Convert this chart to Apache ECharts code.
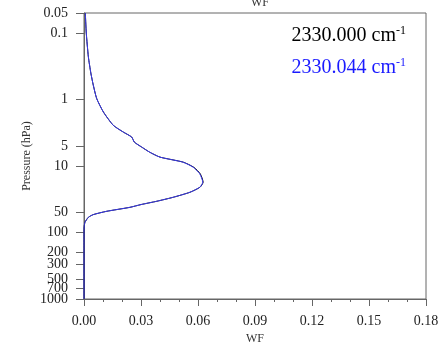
<!DOCTYPE html>
<html>
<head>
<meta charset="utf-8">
<script src="https://cdn.jsdelivr.net/npm/echarts@6/dist/echarts.min.js"></script>
<style>html,body{margin:0;padding:0;background:#fff;}#c{width:438px;height:343px;}</style>
</head>
<body>
<div id="c"></div>
<script>
var pressure = [0.05, 0.1, 0.228, 0.40, 0.61, 0.97, 1.54, 2.44, 3.09, 3.67, 4.37, 5.2, 6.18, 7.35, 8.74, 10.4, 13.1, 17.5, 20.8, 24.8, 29.5, 33.9, 38.0, 41.8, 48.0, 53.8, 59.1, 70.3, 81.6, 100, 200, 500, 1000];
var wfBlack = [0.0007, 0.0012, 0.0023, 0.0036, 0.0049, 0.0067, 0.0102, 0.0154, 0.0207, 0.0251, 0.0265, 0.0304, 0.0345, 0.0400, 0.0522, 0.0577, 0.0612, 0.0627, 0.0611, 0.0558, 0.0470, 0.0383, 0.0300, 0.0242, 0.0119, 0.0049, 0.0023, 0.0005, 0.0001, 0.0, 0.0, 0.0, 0.0];
var wfBlue  = [0.0007, 0.0012, 0.0023, 0.0036, 0.0049, 0.0067, 0.0102, 0.0154, 0.0207, 0.0251, 0.0265, 0.0304, 0.0345, 0.0400, 0.0520, 0.0574, 0.0609, 0.0625, 0.0610, 0.0558, 0.0470, 0.0383, 0.0300, 0.0242, 0.0119, 0.0049, 0.0023, 0.0005, 0.0001, 0.0, 0.0, 0.0, 0.0];
var seriesNames = ['2330.000 cm', '2330.044 cm'];
var yTicks = [0.05, 0.1, 1, 5, 10, 50, 100, 200, 300, 500, 700, 1000];
var yTicksCrowded = [700, 1000];   // labels that overlap their neighbours in the original
var xMin = 0, xMax = 0.18, xStep = 0.03;
var yMin = 0.05, yMax = 1000;

var serif = 'Liberation Serif';
function pairs(vals){ return vals.map(function(v,i){ return [v, pressure[i]]; }); }
function labelStyle(values){
  return {fontFamily: serif, fontSize: 14, color: '#222', margin: 16,
    showMinLabel: true, showMaxLabel: true, hideOverlap: false, customValues: values,
    formatter: function(v){ return String(+v.toPrecision(6)); }};
}
var mainLabels = yTicks.filter(function(v){ return yTicksCrowded.indexOf(v) < 0; });

var yAxes = [{
  type: 'log', logBase: 10, inverse: true, min: yMin, max: yMax, position: 'left',
  name: 'Pressure (hPa)', nameLocation: 'middle', nameGap: 50, nameRotate: 90,
  nameTextStyle: {fontFamily: serif, fontSize: 12, color: '#333'},
  axisLine: {show: true, lineStyle: {color: '#666'}},
  axisTick: {show: true, length: 8, customValues: yTicks, lineStyle: {color: '#666'}},
  splitLine: {show: false},
  axisLabel: labelStyle(mainLabels)
}];
yTicksCrowded.forEach(function(v){
  yAxes.push({
    type: 'log', logBase: 10, inverse: true, min: yMin, max: yMax, position: 'left', offset: 0,
    axisLine: {show: false}, axisTick: {show: false}, splitLine: {show: false},
    axisLabel: labelStyle([v])
  });
});

var chart = echarts.init(document.getElementById('c'), null, {renderer:'canvas'});
chart.setOption({
  animation: false,
  backgroundColor: '#fff',
  title: {
    text: 'WF', left: 255, top: -8, textAlign: 'center',
    textStyle: {fontFamily: serif, fontSize: 12, fontWeight: 'normal', color: '#333'}
  },
  grid: {left: 84, right: 12, top: 13, bottom: 44, show: true, borderColor: '#666', borderWidth: 1,
    containLabel: false, outerBoundsMode: 'none'},
  legend: {
    orient: 'vertical', right: 22, top: 20, itemGap: 11,
    icon: 'none', itemWidth: 0, itemHeight: 0,
    selectedMode: false,
    align: 'right',
    formatter: function(n){ return '{a|' + n + '}{s|-1}'; },
    textStyle: {
      fontFamily: serif, fontSize: 20,
      rich: {
        a: {fontFamily: serif, fontSize: 20},
        s: {fontFamily: serif, fontSize: 12, verticalAlign: 'top', padding: [0,0,10,0]}
      }
    },
    data: [
      {name: seriesNames[0], textStyle: {color: '#000'}},
      {name: seriesNames[1], textStyle: {color: '#1a1aff'}}
    ]
  },
  xAxis: {
    type: 'value', min: xMin, max: xMax, interval: xStep,
    name: 'WF', nameLocation: 'middle', nameGap: 32,
    nameTextStyle: {fontFamily: serif, fontSize: 12, color: '#333'},
    axisLine: {show: true, lineStyle: {color: '#666'}},
    axisTick: {show: true, length: 7, lineStyle: {color: '#666'}},
    minorTick: {show: true, splitNumber: 3, length: 3, lineStyle: {color: '#666'}},
    splitLine: {show: false},
    axisLabel: {fontFamily: serif, fontSize: 14, color: '#222', margin: 15,
      formatter: function(v){ return v.toFixed(2); }}
  },
  yAxis: yAxes,
  series: [
    {name: seriesNames[0], type: 'line', yAxisIndex: 0, data: pairs(wfBlack), showSymbol: false, symbol: 'none',
      lineStyle: {color: '#000', width: 1}, itemStyle: {color: '#000'}, smooth: 0.2},
    {name: seriesNames[1], type: 'line', yAxisIndex: 0, data: pairs(wfBlue), showSymbol: false, symbol: 'none',
      lineStyle: {color: '#3a3af0', width: 1}, itemStyle: {color: '#1a1aff'}, smooth: 0.2}
  ]
});
</script>
</body>
</html>
